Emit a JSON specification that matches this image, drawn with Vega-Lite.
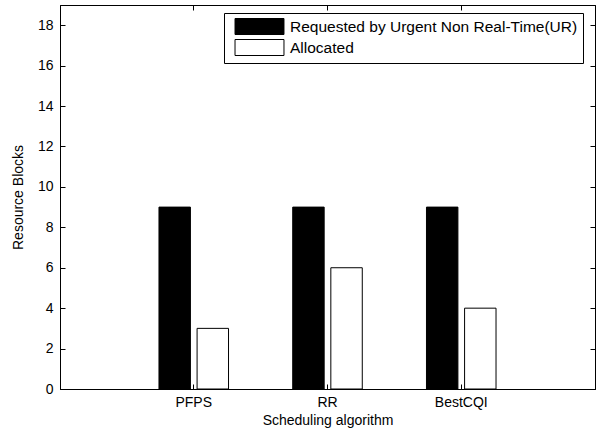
{
  "$schema": "https://vega.github.io/schema/vega-lite/v6.json",
  "autosize": "none",
  "width": 535,
  "height": 384,
  "padding": {"left": 60, "top": 5, "right": 5, "bottom": 47},
  "background": "white",
  "config": {
    "view": {"stroke": "black", "strokeWidth": 1},
    "font": "Liberation Sans",
    "axis": {
      "domainColor": "black",
      "tickColor": "black",
      "labelColor": "black",
      "titleColor": "black",
      "labelFont": "Liberation Sans",
      "titleFont": "Liberation Sans",
      "labelFontSize": 14,
      "titleFontSize": 14,
      "titleFontWeight": "normal",
      "grid": false
    }
  },
  "data": {
    "values": [
      {"algorithm": "PFPS", "series": "Requested by Urgent Non Real-Time(UR)", "value": 9},
      {"algorithm": "PFPS", "series": "Allocated", "value": 3},
      {"algorithm": "RR", "series": "Requested by Urgent Non Real-Time(UR)", "value": 9},
      {"algorithm": "RR", "series": "Allocated", "value": 6},
      {"algorithm": "BestCQI", "series": "Requested by Urgent Non Real-Time(UR)", "value": 9},
      {"algorithm": "BestCQI", "series": "Allocated", "value": 4}
    ]
  },
  "layer": [
    {
      "mark": {"type": "bar", "stroke": "black", "strokeWidth": 1},
      "encoding": {
        "x": {
          "field": "algorithm",
          "type": "nominal",
          "sort": ["PFPS", "RR", "BestCQI"],
          "scale": {"paddingInner": 0.48, "paddingOuter": 0.74},
          "axis": {
            "title": "Scheduling algorithm",
            "labelAngle": 0,
            "tickSize": -5,
            "labelPadding": 11,
            "titlePadding": 4
          }
        },
        "xOffset": {
          "field": "series",
          "type": "nominal",
          "sort": ["Requested by Urgent Non Real-Time(UR)", "Allocated"],
          "scale": {"paddingInner": 0.175, "paddingOuter": 0}
        },
        "y": {
          "field": "value",
          "type": "quantitative",
          "scale": {"domain": [0, 19], "nice": false},
          "axis": {
            "title": "Resource Blocks",
            "values": [0, 2, 4, 6, 8, 10, 12, 14, 16, 18],
            "tickSize": -5,
            "labelPadding": 12,
            "titlePadding": 12
          }
        },
        "fill": {
          "field": "series",
          "type": "nominal",
          "sort": ["Requested by Urgent Non Real-Time(UR)", "Allocated"],
          "scale": {
            "domain": ["Requested by Urgent Non Real-Time(UR)", "Allocated"],
            "range": ["black", "white"]
          },
          "legend": {
            "title": null,
            "orient": "none",
            "legendX": 164,
            "legendY": 8,
            "direction": "vertical",
            "strokeColor": "black",
            "fillColor": "white",
            "padding": 5,
            "cornerRadius": 0,
            "symbolType": "M-3.06,-1H3.06V1H-3.06Z",
            "symbolSize": 256,
            "symbolStrokeColor": "black",
            "symbolStrokeWidth": 1,
            "symbolOffset": 22,
            "labelOffset": 22,
            "labelFont": "Liberation Sans",
            "labelFontSize": 15.5,
            "labelColor": "black",
            "labelLimit": 400,
            "rowPadding": 0
          }
        }
      }
    },
    {
      "mark": {"type": "point", "opacity": 0},
      "encoding": {
        "x": {
          "field": "algorithm",
          "type": "nominal",
          "sort": ["PFPS", "RR", "BestCQI"],
          "axis": {"orient": "top", "title": null, "labels": false, "tickSize": -5, "domain": true}
        },
        "y": {
          "field": "value",
          "type": "quantitative",
          "axis": {"orient": "right", "title": null, "labels": false, "tickSize": -5, "values": [0, 2, 4, 6, 8, 10, 12, 14, 16, 18]}
        }
      }
    }
  ],
  "resolve": {"axis": {"x": "independent", "y": "independent"}}
}
